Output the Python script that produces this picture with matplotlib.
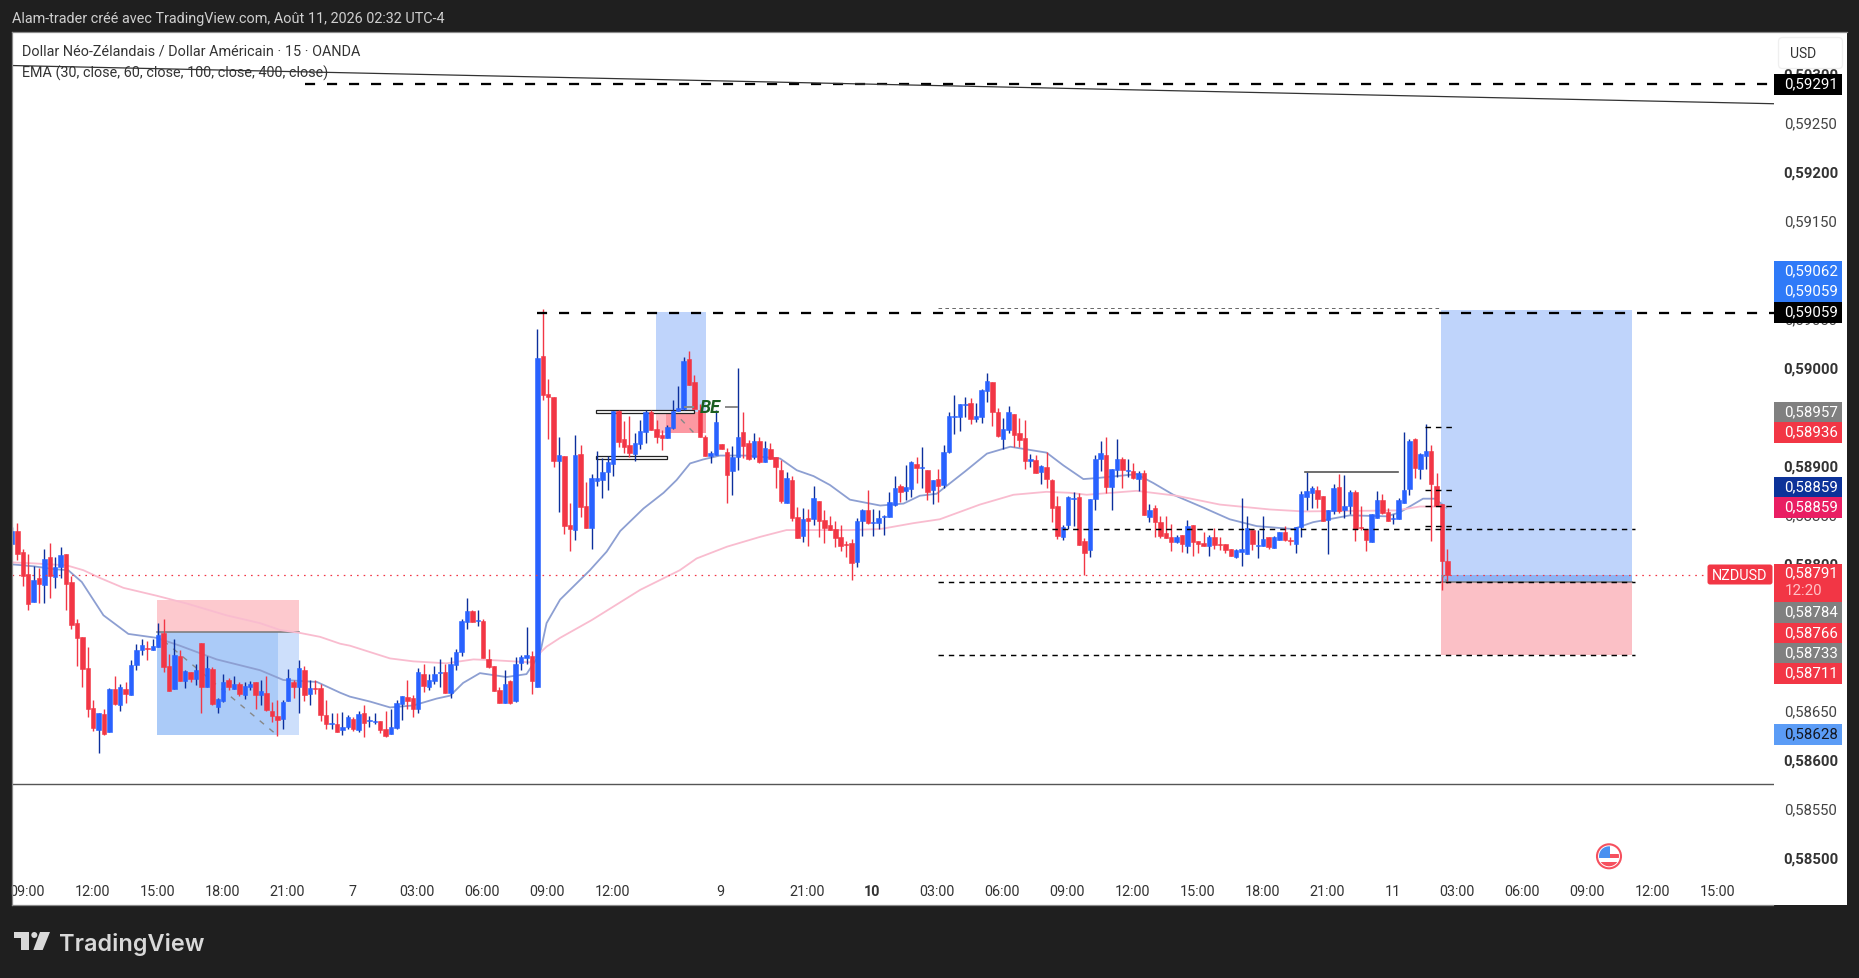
import numpy as np
import matplotlib
matplotlib.use("Agg")
import matplotlib.pyplot as plt
from matplotlib.patches import Rectangle, Circle, Polygon, FancyBboxPatch
from matplotlib.transforms import ScaledTranslation

# prices are in 1e-5 units (58791 = 0,58791), one candle = 15 min
opens = [
    58823, 58836, 58815, 58792, 58764, 58788, 58781, 58809, 58789, 58799,
    58813, 58784, 58742, 58728, 58696, 58655, 58633, 58649, 58631, 58675,
    58658, 58675, 58669, 58699, 58715, 58717, 58715, 58718, 58732, 58698,
    58675, 58708, 58683, 58692, 58685, 58722, 58677, 58695, 58656, 58663,
    58684, 58675, 58680, 58669, 58677, 58682, 58669, 58671, 58652, 58647,
    58644, 58663, 58682, 58677, 58694, 58670, 58676, 58676, 58648, 58639,
    58639, 58633, 58636, 58644, 58633, 58650, 58642, 58641, 58642, 58634,
    58629, 58635, 58659, 58667, 58666, 58654, 58690, 58677, 58683, 58691,
    58692, 58671, 58699, 58713, 58743, 58754, 58744, 58744, 58705, 58698,
    58674, 58661, 58683, 58663, 58701, 58706, 58708, 58677, 59015, 58976,
    58973, 58907, 58913, 58842, 58837, 58915, 58862, 58839, 58887, 58888,
    58896, 58904, 58958, 58930, 58924, 58915, 58925, 58937, 58957, 58940,
    58934, 58931, 58941, 58958, 58961, 59012, 58988, 58959, 58932, 58913,
    58914, 58925, 58917, 58897, 58912, 58937, 58926, 58912, 58928, 58906,
    58920, 58912, 58898, 58865, 58888, 58850, 58831, 58849, 58848, 58867,
    58847, 58842, 58838, 58830, 58823, 58824, 58804, 58846, 58857, 58844,
    58844, 58850, 58850, 58863, 58882, 58877, 58879, 58904, 58900, 58898,
    58878, 58889, 58883, 58917, 58952, 58952, 58965, 58967, 58950, 58952,
    58979, 58988, 58957, 58930, 58939, 58955, 58936, 58931, 58907, 58908,
    58896, 58901, 58888, 58862, 58830, 58842, 58869, 58871, 58826, 58817,
    58869, 58909, 58914, 58881, 58898, 58910, 58897, 58897, 58889, 58895,
    58850, 58860, 58845, 58834, 58830, 58825, 58832, 58821, 58842, 58826,
    58824, 58821, 58830, 58823, 58823, 58818, 58809, 58815, 58813, 58837,
    58821, 58821, 58830, 58819, 58827, 58835, 58827, 58823, 58840, 58871,
    58875, 58878, 58872, 58847, 58856, 58881, 58857, 58862, 58876, 58840,
    58838, 58825, 58849, 58868, 58855, 58848, 58848, 58865, 58879, 58930,
    58899, 58913, 58918, 58882, 58864, 58805,
]
closes = [
    58836, 58813, 58790, 58762, 58786, 58782, 58807, 58790, 58799, 58812,
    58782, 58740, 58727, 58695, 58654, 58635, 58650, 58629, 58675, 58659,
    58677, 58670, 58699, 58715, 58720, 58716, 58719, 58730, 58697, 58673,
    58710, 58683, 58693, 58685, 58694, 58677, 58696, 58659, 58665, 58682,
    58677, 58680, 58670, 58678, 58680, 58669, 58673, 58653, 58647, 58643,
    58662, 58686, 58677, 58696, 58669, 58676, 58675, 58648, 58639, 58640,
    58631, 58636, 58646, 58634, 58649, 58640, 58643, 58642, 58633, 58627,
    58636, 58661, 58668, 58663, 58654, 58692, 58678, 58684, 58690, 58692,
    58671, 58700, 58713, 58744, 58754, 58743, 58745, 58706, 58697, 58673,
    58661, 58680, 58661, 58700, 58707, 58710, 58683, 59013, 58975, 58973,
    58907, 58914, 58841, 58838, 58914, 58861, 58839, 58890, 58890, 58896,
    58906, 58958, 58927, 58922, 58916, 58926, 58938, 58957, 58939, 58932,
    58931, 58942, 58958, 58962, 59010, 58985, 58961, 58932, 58913, 58916,
    58947, 58920, 58893, 58912, 58932, 58923, 58909, 58928, 58906, 58921,
    58909, 58901, 58867, 58890, 58849, 58829, 58848, 58846, 58870, 58846,
    58839, 58837, 58829, 58821, 58822, 58803, 58846, 58857, 58844, 58845,
    58849, 58851, 58866, 58880, 58876, 58881, 58906, 58900, 58901, 58876,
    58888, 58882, 58917, 58953, 58953, 58966, 58966, 58950, 58953, 58980,
    58989, 58957, 58933, 58940, 58957, 58934, 58929, 58907, 58910, 58895,
    58902, 58889, 58860, 58831, 58840, 58871, 58870, 58822, 58814, 58869,
    58910, 58916, 58881, 58899, 58910, 58898, 58898, 58890, 58895, 58852,
    58857, 58845, 58831, 58829, 58825, 58830, 58823, 58841, 58825, 58823,
    58821, 58830, 58822, 58822, 58817, 58811, 58817, 58818, 58839, 58823,
    58822, 58828, 58820, 58830, 58835, 58827, 58826, 58840, 58874, 58877,
    58880, 58869, 58846, 58857, 58880, 58856, 58862, 58876, 58838, 58839,
    58827, 58853, 58868, 58854, 58846, 58849, 58868, 58878, 58928, 58900,
    58915, 58918, 58884, 58862, 58805, 58791,
]
highs = [
    58840, 58844, 58818, 58813, 58800, 58798, 58818, 58824, 58809, 58820,
    58813, 58790, 58746, 58728, 58718, 58664, 58650, 58654, 58676, 58688,
    58680, 58682, 58704, 58721, 58726, 58724, 58726, 58742, 58746, 58711,
    58726, 58715, 58694, 58692, 58700, 58722, 58708, 58697, 58666, 58690,
    58686, 58688, 58682, 58682, 58683, 58682, 58684, 58688, 58662, 58664,
    58664, 58695, 58684, 58704, 58698, 58684, 58684, 58680, 58664, 58650,
    58650, 58651, 58648, 58646, 58652, 58658, 58647, 58650, 58642, 58652,
    58654, 58664, 58668, 58684, 58669, 58696, 58700, 58690, 58698, 58705,
    58700, 58707, 58716, 58746, 58768, 58755, 58755, 58746, 58716, 58698,
    58677, 58694, 58684, 58707, 58710, 58738, 58714, 59042, 59063, 58991,
    58973, 58932, 58913, 58865, 58934, 58924, 58886, 58894, 58918, 58911,
    58913, 58958, 58960, 58948, 58953, 58936, 58949, 58959, 58960, 58949,
    58939, 58944, 58970, 58984, 59014, 59020, 58995, 58966, 58934, 58918,
    58960, 58925, 58921, 58923, 59002, 58957, 58929, 58936, 58932, 58928,
    58926, 58912, 58908, 58896, 58892, 58861, 58859, 58858, 58882, 58867,
    58857, 58851, 58846, 58842, 58826, 58828, 58849, 58858, 58878, 58858,
    58857, 58852, 58876, 58892, 58884, 58903, 58907, 58912, 58922, 58898,
    58888, 58899, 58924, 58957, 58975, 58966, 58973, 58972, 58967, 58981,
    58997, 58988, 58962, 58951, 58964, 58955, 58951, 58949, 58915, 58914,
    58903, 58917, 58889, 58872, 58842, 58872, 58876, 58875, 58829, 58869,
    58914, 58928, 58932, 58899, 58930, 58912, 58910, 58905, 58897, 58898,
    58864, 58863, 58851, 58851, 58843, 58832, 58832, 58847, 58842, 58826,
    58835, 58832, 58839, 58830, 58823, 58818, 58818, 58870, 58851, 58837,
    58837, 58851, 58830, 58831, 58835, 58841, 58830, 58840, 58877, 58896,
    58882, 58882, 58872, 58857, 58884, 58894, 58893, 58878, 58878, 58862,
    58838, 58853, 58877, 58874, 58860, 58853, 58870, 58937, 58930, 58931,
    58916, 58945, 58924, 58895, 58864, 58818,
]
lows = [
    58823, 58806, 58780, 58755, 58764, 58763, 58763, 58768, 58778, 58788,
    58755, 58736, 58698, 58677, 58646, 58632, 58610, 58628, 58631, 58658,
    58652, 58661, 58669, 58694, 58710, 58704, 58715, 58718, 58692, 58673,
    58675, 58683, 58676, 58682, 58679, 58650, 58677, 58658, 58650, 58662,
    58674, 58675, 58668, 58665, 58674, 58654, 58658, 58652, 58641, 58627,
    58634, 58663, 58666, 58650, 58663, 58658, 58670, 58642, 58634, 58634,
    58631, 58628, 58634, 58632, 58631, 58626, 58636, 58639, 58630, 58626,
    58629, 58634, 58643, 58654, 58646, 58650, 58672, 58674, 58680, 58677,
    58671, 58666, 58694, 58708, 58736, 58743, 58739, 58706, 58696, 58673,
    58661, 58661, 58660, 58662, 58694, 58700, 58670, 58677, 58970, 58930,
    58901, 58855, 58833, 58816, 58827, 58850, 58839, 58818, 58882, 58870,
    58878, 58892, 58922, 58916, 58912, 58907, 58920, 58926, 58939, 58926,
    58919, 58931, 58940, 58958, 58959, 58985, 58961, 58932, 58913, 58905,
    58914, 58920, 58865, 58873, 58898, 58911, 58908, 58910, 58905, 58906,
    58909, 58880, 58865, 58865, 58846, 58829, 58825, 58821, 58842, 58830,
    58824, 58837, 58820, 58816, 58810, 58786, 58799, 58831, 58843, 58831,
    58838, 58832, 58850, 58862, 58866, 58868, 58871, 58885, 58880, 58868,
    58864, 58866, 58880, 58916, 58935, 58938, 58952, 58945, 58947, 58946,
    58968, 58943, 58932, 58920, 58936, 58922, 58922, 58899, 58901, 58895,
    58884, 58880, 58845, 58828, 58827, 58838, 58841, 58822, 58791, 58810,
    58857, 58897, 58875, 58857, 58891, 58880, 58891, 58889, 58877, 58852,
    58845, 58830, 58829, 58829, 58816, 58824, 58815, 58814, 58811, 58814,
    58821, 58811, 58818, 58817, 58814, 58811, 58808, 58800, 58813, 58817,
    58808, 58821, 58818, 58819, 58827, 58826, 58822, 58814, 58830, 58857,
    58860, 58860, 58846, 58813, 58853, 58854, 58849, 58853, 58826, 58837,
    58816, 58825, 58849, 58853, 58846, 58843, 58848, 58865, 58873, 58890,
    58889, 58899, 58826, 58862, 58776, 58783,
]

# EMAs, read at candle numbers
ema_blue_idx = [0, 4, 8, 10.4, 12.9, 16.9, 21.5, 26.7, 31, 37.8, 45.8, 50.1, 56.3, 60.6, 62.4, 66.1, 69.8,
                74.1, 78.4, 80.9, 83.3, 86.4, 91.3, 95, 97.5, 98.7, 101.2, 106.7, 109.8, 112.3, 116.6,
                120.3, 122.7, 125.2, 127.6, 130.7, 135.6, 141.8, 144.9, 148, 151, 154.7, 160.3, 164.6,
                167.6, 170.7, 176, 180, 184.3, 191, 194.1, 197.8, 200.2, 207.6, 210.7, 214.4, 219.9,
                224.8, 229.8, 236.5, 240.2, 247, 253.8, 256.2, 260.5, 262.7, 264.8]
ema_blue_val = [58802, 58800, 58797, 58796, 58784, 58750, 58731, 58727, 58719, 58705, 58694, 58684, 58682, 58671,
                58667, 58662, 58656, 58658, 58665, 58668, 58681, 58691, 58687, 58690, 58711, 58742, 58766,
                58796, 58815, 58836, 58859, 58875, 58888, 58905, 58909, 58913, 58913, 58910, 58898, 58892,
                58883, 58868, 58862, 58864, 58872, 58874, 58897, 58915, 58922, 58916, 58903, 58889, 58890,
                58894, 58885, 58873, 58860, 58848, 58841, 58838, 58845, 58852, 58851, 58855, 58869, 58869,
                58860]
ema_pink_idx = [0, 4, 10.1, 13.2, 16.3, 20.6, 26.7, 32.3, 39.6, 45.8, 49.5, 53.2, 56.9, 60.6, 62.4, 69.8, 74.1,
                80.2, 85.2, 89.5, 95.6, 98.7, 101.2, 107, 116, 123.3, 126.4, 132, 138.1, 143, 148, 154.7,
                160.3, 166.4, 171.3, 178.7, 184.9, 191, 195.3, 198.4, 207.6, 215, 223, 232.2, 238.4,
                255.6, 259.9, 264.8]
ema_pink_val = [58804, 58803, 58801, 58796, 58788, 58778, 58770, 58762, 58750, 58742, 58735, 58732, 58728, 58721,
                58719, 58706, 58703, 58701, 58705, 58704, 58702, 58718, 58727, 58745, 58776, 58796, 58808,
                58820, 58830, 58837, 58837, 58837, 58838, 58844, 58848, 58863, 58873, 58876, 58875, 58873,
                58877, 58872, 58863, 58858, 58856, 58857, 58861, 58861]

# 59100, 58950, 58750 and 58700 sit fully under the tags in the screenshot
price_ticks = [59300, 59250, 59200, 59150, 59050, 59000, 58900, 58850, 58800, 58650, 58600, 58550, 58500]
bold_ticks = [59300, 59200, 59000, 58900, 58800, 58600, 58500]
time_idx = [3, 15, 27, 39, 51, 63, 75, 87, 99, 111, 131, 147, 159, 171, 183, 195, 207, 219, 231, 243, 255, 267,
            279, 291, 303, 315]
time_labels = ["09:00", "12:00", "15:00", "18:00", "21:00", "7", "03:00", "06:00", "09:00", "12:00", "9", "21:00",
               "10", "03:00", "06:00", "09:00", "12:00", "15:00", "18:00", "21:00", "11", "03:00", "06:00",
               "09:00", "12:00", "15:00"]

# tags on the price scale
tag_texts = ["0,59291", "0,59062", "0,59059", "0,59059", "0,58957", "0,58936", "0,58859", "0,58859",
             "0,58784", "0,58766", "0,58733", "0,58711", "0,58628"]
tag_colors = ["#000000", "#2f7af8", "#2f7af8", "#000000", "#808080", "#f23645", "#0c3299", "#e91e63",
              "#808080", "#f23645", "#808080", "#f23645", "#5b9cf6"]
tag_tops = [75, 262, 282, 303, 403, 423, 478, 498, 603, 624, 644, 664, 725]

# px layout of the screenshot
W, H = 1859, 979
PANE_L, PANE_T, PANE_R, PANE_B = 12, 33, 1774, 880
CANDLE_X0, CANDLE_STEP = 11.9, 5.417
Y_59000, PX_PER_UNIT = 371.3, 0.98

BLUE = "#2962ff"
BLUE_WICK = "#0c2f9c"
RED = "#f23645"
DARK_BG = "#1f1f1f"
FONT = ["Roboto", "DejaVu Sans"]

plt.rcParams["font.family"] = FONT
fig = plt.figure(figsize=(W / 100, H / 100), dpi=100, facecolor=DARK_BG)
fig.add_artist(Rectangle((12 / W, 1 - 906 / H), (1847 - 12) / W, (906 - 33) / H, transform=fig.transFigure,
                         facecolor="white", edgecolor="none", zorder=-1))

ax = fig.add_axes([PANE_L / W, 1 - PANE_B / H, (PANE_R - PANE_L) / W, (PANE_B - PANE_T) / H], facecolor="white")
ax.set_xlim((PANE_L - CANDLE_X0) / CANDLE_STEP, (PANE_R - CANDLE_X0) / CANDLE_STEP)
ax.set_ylim(59000 - (PANE_B - Y_59000) / PX_PER_UNIT, 59000 + (Y_59000 - PANE_T) / PX_PER_UNIT)
for side in ax.spines.values():
    side.set_visible(False)

# position boxes
ax.add_patch(Rectangle((26.8, 58733), 26.15, 33, facecolor="#fdc9ce", zorder=1))
ax.add_patch(Rectangle((26.8, 58628), 22.27, 105, facecolor="#abcbf8", zorder=1))
ax.add_patch(Rectangle((49.07, 58628), 3.88, 105, facecolor="#cddffb", zorder=1))
ax.plot([26.8, 52.95], [58733, 58733], color="#777777", lw=1.1, zorder=1.5)
ax.plot([28, 48.9], [58724, 58628], color="#888888", lw=1, ls=(0, (4, 5)), zorder=1.5)

ax.add_patch(Rectangle((118.9, 58957), 9.2, 102, facecolor="#bfd4fb", zorder=1))
ax.add_patch(Rectangle((118.9, 58936), 9.2, 21, facecolor="#fdc0c8", zorder=1))
ax.add_patch(Rectangle((120.8, 58936), 7.3, 21, facecolor="#fc98a2", zorder=1.1))
ax.plot([123.5, 126.1], [58950, 58935], color="#888888", lw=1, ls=(0, (4, 5)), zorder=1.5)

ax.add_patch(Rectangle((263.8, 58791), 35.3, 271, facecolor="#bfd4fb", zorder=1))
ax.add_patch(Rectangle((263.8, 58784), 35.3, 7, facecolor="#8fb4f4", zorder=1))
ax.add_patch(Rectangle((263.8, 58710), 35.3, 74, facecolor="#fbc0c6", zorder=1))
ax.plot([263.8, 299.1], [58784, 58784], color="#777777", lw=1.1, zorder=1.5)
ax.plot([264, 265], [58791, 58784], color="#888888", lw=1, ls=(0, (2, 2)), zorder=5)

# level boxes
ax.add_patch(Rectangle((107.8, 58956), 18.2, 3, facecolor="white", edgecolor="#222222", lw=0.9, zorder=2))
ax.add_patch(Rectangle((107.9, 58910), 13.1, 3, facecolor="white", edgecolor="#222222", lw=0.9, zorder=2))

ax.plot(ema_blue_idx, ema_blue_val, color="#8d9fd2", lw=1.3, zorder=2.5)
ax.plot(ema_pink_idx, ema_pink_val, color="#f9bccf", lw=1.3, zorder=2.5)

# candles
idx = np.arange(len(opens))
o = np.array(opens)
c = np.array(closes)
up = c >= o
ax.vlines(idx[up], np.array(lows)[up], np.array(highs)[up], color=BLUE_WICK, lw=1.0, zorder=3)
ax.vlines(idx[~up], np.array(lows)[~up], np.array(highs)[~up], color=RED, lw=1.0, zorder=3)
ax.bar(idx[up], (c - o)[up], bottom=o[up], width=0.82, color=BLUE, edgecolor=BLUE, lw=0.4, zorder=4)
ax.bar(idx[~up], (o - c)[~up], bottom=c[~up], width=0.82, color=RED, edgecolor=RED, lw=0.4, zorder=4)

# levels and trend lines
thick = (0, (4.4, 5.2))
thin = (0, (3.7, 3.4))
ax.plot([54.1, 325.3], [59292, 59292], color="black", lw=1.65, ls=thick, zorder=5)
ax.plot([96.9, 325.3], [59058, 59058], color="black", lw=1.65, ls=thick, zorder=5)
ax.plot([170.9, 263.8], [59064, 59064], color="#666666", lw=0.7, ls=thin, zorder=5)
for level in [58838, 58784, 58710]:
    ax.plot([170.9, 299.6], [level, level], color="black", lw=1.05, ls=thin, zorder=5)
ax.plot([0, 325.3], [59311, 59272], color="#333333", lw=0.9, zorder=5)
ax.plot([0, 325.3], [58578, 58578], color="#555555", lw=1.0, zorder=5)
ax.plot([238.8, 255.8], [58896, 58896], color="#555555", lw=1.2, zorder=5)
for level in [58942, 58878, 58862, 58841]:
    ax.plot([260.9, 265.9], [level, level], color="black", lw=1.0, ls=(0, (4, 3.5)), zorder=5)
ax.plot([0, 313], [58791, 58791], color=RED, lw=0.9, ls=(0, (1.3, 4)), zorder=5)

ax.plot([124.3, 125.7], [58963, 58963], color="#888888", lw=1.4, zorder=5)
ax.plot([131.8, 133.9], [58963, 58963], color="#888888", lw=1.4, zorder=5)
ax.text(128.9, 58963, "BE", color="#1b5e20", fontsize=13, fontweight="bold", style="italic",
        ha="center", va="center", zorder=6)

ax.set_xticks(np.array(time_idx) - 0.15, time_labels)
ax.set_yticks(price_ticks, [f"0,{t}" for t in price_ticks])
ax.yaxis.tick_right()
ax.tick_params(axis="x", length=0, pad=3.9, labelsize=10.4, labelcolor="#333333")
ax.tick_params(axis="y", length=0, pad=7.0, labelsize=10.7, labelcolor="#434343")
nudge = ScaledTranslation(0, 3.2 / 100, fig.dpi_scale_trans)
for lab, t in zip(ax.get_yticklabels(), price_ticks):
    lab.set_transform(lab.get_transform() + nudge)
    if t in bold_ticks:
        lab.set_fontweight("bold")
        lab.set_color("#333333")
for lab in ax.get_xticklabels():
    if lab.get_text() == "10":
        lab.set_fontweight("bold")

# screenshot chrome on top, in pixels
ov = fig.add_axes([0, 0, 1, 1], facecolor="none", zorder=5)
ov.set_xlim(0, W)
ov.set_ylim(H, 0)
ov.axis("off")

ov.add_patch(Rectangle((0, 880), 11.5, 26, facecolor=DARK_BG))
ov.plot([12, 1847], [33, 33], color="#8a8a8a", lw=0.9)
ov.plot([12, 12], [33, 906], color="#8a8a8a", lw=0.9)
ov.plot([12, 1773], [906, 906], color="#8a8a8a", lw=0.9)

ov.text(12, 19, "Alam-trader créé avec TradingView.com, Août 11, 2026 02:32 UTC-4", color="#cfcfcf",
        fontsize=10.4, va="center")
ov.text(22, 51, "Dollar Néo-Zélandais / Dollar Américain · 15 · OANDA", color="#333333", fontsize=10.4, va="center")
ov.text(22, 73, "EMA (30, close, 60, close, 100, close, 400, close)", color="#333333", fontsize=10.4, va="center")

ov.add_patch(FancyBboxPatch((1780, 40), 61, 28, boxstyle="round,pad=1.5,rounding_size=4", facecolor="white",
                            edgecolor="#efefef", lw=0.9))
ov.text(1802.7, 53.5, "USD", color="#333333", fontsize=10, ha="center", va="center")

for text, color, top in zip(tag_texts, tag_colors, tag_tops):
    ov.add_patch(Rectangle((1774, top), 68.5, 20.8, facecolor=color, edgecolor="none"))
    ink = "#131722" if color == "#5b9cf6" else "white"
    ov.text(1784.5, top + 9.2, text, color=ink, fontsize=10.8, va="center")

# last price tag with countdown
ov.add_patch(Rectangle((1774, 565), 68.5, 38, facecolor=RED, edgecolor="none"))
ov.text(1784.5, 573.5, "0,58791", color="white", fontsize=10.8, va="center")
ov.text(1784.5, 591, "12:20", color="#ffc2c7", fontsize=10.8, va="center")
ov.add_patch(FancyBboxPatch((1709, 567), 62, 17, boxstyle="round,pad=1.5,rounding_size=2.5", facecolor=RED,
                            edgecolor="none"))
ov.text(1740, 576.5, "NZDUSD", color="white", fontsize=10.4, ha="center", va="center")

# US event flag
clip = Circle((1609, 857.3), 10, transform=ov.transData)
ov.add_patch(Circle((1609, 857.3), 12, facecolor="white", edgecolor="#f6505e", lw=1.5))
for (fx, fy, fw, fh, fc) in [(1598, 847, 12, 12, "#4a90f0"), (1610, 855, 10, 4, "#f6505e"),
                             (1598, 863, 22, 5, "#f6505e")]:
    part = Rectangle((fx, fy), fw, fh, facecolor=fc, edgecolor="none")
    ov.add_patch(part)
    part.set_clip_path(clip)

# TradingView logo
logo = "#d9d9d9"
ov.add_patch(Polygon([(14.3, 933), (29, 933), (29, 951), (20.7, 951), (20.7, 939), (14.3, 939)], facecolor=logo))
ov.add_patch(Circle((34.3, 936), 3, facecolor=logo))
ov.add_patch(Polygon([(40, 933), (50, 933), (42.7, 951), (33.3, 951)], facecolor=logo))
ov.text(59, 950.7, "TradingView", color=logo, family=["Inter", "DejaVu Sans"], fontsize=16.9, fontweight=600,
        va="baseline")

fig.savefig("out.png", dpi=100, facecolor=DARK_BG)
